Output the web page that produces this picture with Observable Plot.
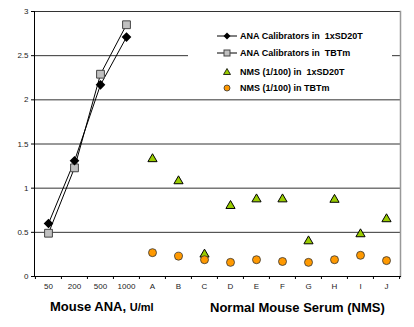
<!DOCTYPE html>
<html><head><meta charset="utf-8">
<script src="https://cdn.jsdelivr.net/npm/d3@7"></script>
<script src="https://cdn.jsdelivr.net/npm/@observablehq/plot@0.6"></script>
<style>
body{margin:0;background:#fff;font-family:"Liberation Sans",Arial,sans-serif;}
#wrap{position:relative;width:414px;height:327px;overflow:hidden;}
#legend{position:absolute;left:188px;top:24px;width:204px;height:72px;background:#fff;font-weight:bold;font-size:9px;color:#000;}
#legend .row{position:absolute;left:0;height:12px;line-height:12px;width:204px;}
#legend .row svg{position:absolute;left:29px;top:0;}
#legend .row span{position:absolute;left:52px;top:0;white-space:pre;}
.title{position:absolute;font-weight:bold;color:#000;white-space:pre;line-height:1;}
</style></head><body>
<div id="wrap"></div>
<script>
// ---- data ----
const categories = ["50","200","500","1000","A","B","C","D","E","F","G","H","I","J"];
const calibratorDoses = ["50","200","500","1000"];
const calSD20T = [0.60, 1.31, 2.17, 2.71];
const calTBTm  = [0.49, 1.23, 2.29, 2.85];
const nmsSamples = ["A","B","C","D","E","F","G","H","I","J"];
const nmsSD20T = [1.33, 1.08, 0.25, 0.80, 0.875, 0.875, 0.40, 0.87, 0.48, 0.65];
const nmsTBTm  = [0.27, 0.23, 0.19, 0.16, 0.19, 0.17, 0.16, 0.19, 0.24, 0.18];
const yTicks = [0, 0.5, 1, 1.5, 2, 2.5, 3];
const legendLabels = ["ANA Calibrators in  1xSD20T","ANA Calibrators in  TBTm","NMS (1/100) in  1xSD20T","NMS (1/100) in TBTm"];

const calibrators = calibratorDoses.map((dose,i)=>({dose, sd20t:calSD20T[i], tbtm:calTBTm[i]}));
const nms = nmsSamples.map((s,i)=>({s, sd20t:nmsSD20T[i], tbtm:nmsTBTm[i]}));

const W=414, H=295, mL=34, mR=14, mT=11, mB=19;
const bw = (W-mL-mR)/categories.length;

const chart = Plot.plot({
  width:W, height:H, marginLeft:mL, marginRight:mR, marginTop:mT, marginBottom:mB,
  style:{fontFamily:"Liberation Sans, Arial, sans-serif", fontSize:"8px", color:"#222", background:"#fff", overflow:"visible"},
  x:{type:"band", domain:categories, padding:0, axis:null},
  y:{domain:[0,3], axis:null},
  marks:[
    Plot.ruleY(yTicks.slice(1), {stroke:"#333", strokeWidth:1}),
    Plot.frame({anchor:"right", stroke:"#999", strokeWidth:1.5}),
    Plot.frame({anchor:"left", stroke:"#000", strokeWidth:1}),
    Plot.frame({anchor:"bottom", stroke:"#000", strokeWidth:1}),
    Plot.axisY({ticks:yTicks, tickSize:3, tickPadding:3, tickFormat:d=>String(d), stroke:"#000", fill:"#222", label:null}),
    Plot.axisX({ticks:categories, tickSize:3, tickFormat:()=>"", dx:-bw/2, stroke:"#000", label:null}),
    Plot.axisX({ticks:["J"], tickSize:3, tickFormat:()=>"", dx:bw/2, stroke:"#000", label:null}),
    Plot.axisX({tickSize:0, tickPadding:7, fill:"#222", label:null}),
    Plot.line(calibrators, {x:"dose", y:"tbtm", stroke:"#000", strokeWidth:1}),
    Plot.line(calibrators, {x:"dose", y:"sd20t", stroke:"#000", strokeWidth:1}),
    Plot.dot(calibrators, {x:"dose", y:"tbtm", symbol:"square", r:4.4, fill:"#c0c0c0", stroke:"#444", strokeWidth:1}),
    Plot.dot(calibrators, {x:"dose", y:"sd20t", symbol:"diamond2", r:3.4, fill:"#000", stroke:"#000"}),
    Plot.dot(nms, {x:"s", y:"sd20t", symbol:"triangle", r:3.4, fill:"#99cc00", stroke:"#000", strokeWidth:1}),
    Plot.dot(nms, {x:"s", y:"tbtm", symbol:"circle", r:4, fill:"#ff9900", stroke:"#333", strokeWidth:0.8})
  ]
});
const wrap = document.getElementById("wrap");
wrap.appendChild(chart);

// legend overlay
const legend = document.createElement("div");
legend.id = "legend";
const rowTops = [6, 23, 42, 58];
const symbolSvgs = [
  '<svg width="22" height="12"><line x1="0" y1="6" x2="20" y2="6" stroke="#000"/><path d="M10 2.5L13.5 6L10 9.5L6.5 6Z" fill="#000"/></svg>',
  '<svg width="22" height="12"><line x1="0" y1="6" x2="20" y2="6" stroke="#000"/><rect x="7" y="3" width="6" height="6" fill="#c0c0c0" stroke="#444"/></svg>',
  '<svg width="22" height="12"><path d="M10 2.5L13.5 8.5L6.5 8.5Z" fill="#99cc00" stroke="#000" stroke-width="0.8"/></svg>',
  '<svg width="22" height="12"><circle cx="10" cy="6" r="3" fill="#ff9900" stroke="#333" stroke-width="0.8"/></svg>'
];
legendLabels.forEach((lab,i)=>{
  const row = document.createElement("div");
  row.className = "row";
  row.style.top = rowTops[i] + "px";
  row.innerHTML = symbolSvgs[i];
  const sp = document.createElement("span");
  sp.textContent = lab;
  row.appendChild(sp);
  legend.appendChild(row);
});
wrap.appendChild(legend);

// axis titles
const t1 = document.createElement("div");
t1.className = "title";
t1.style.left = "50px"; t1.style.top = "298px";
t1.innerHTML = '<span style="font-size:13px">Mouse ANA, </span><span style="font-size:11px">U/ml</span>';
wrap.appendChild(t1);
const t2 = document.createElement("div");
t2.className = "title";
t2.style.left = "210px"; t2.style.top = "301px"; t2.style.fontSize = "13px";
t2.textContent = "Normal Mouse Serum (NMS)";
wrap.appendChild(t2);
</script>
</body></html>
